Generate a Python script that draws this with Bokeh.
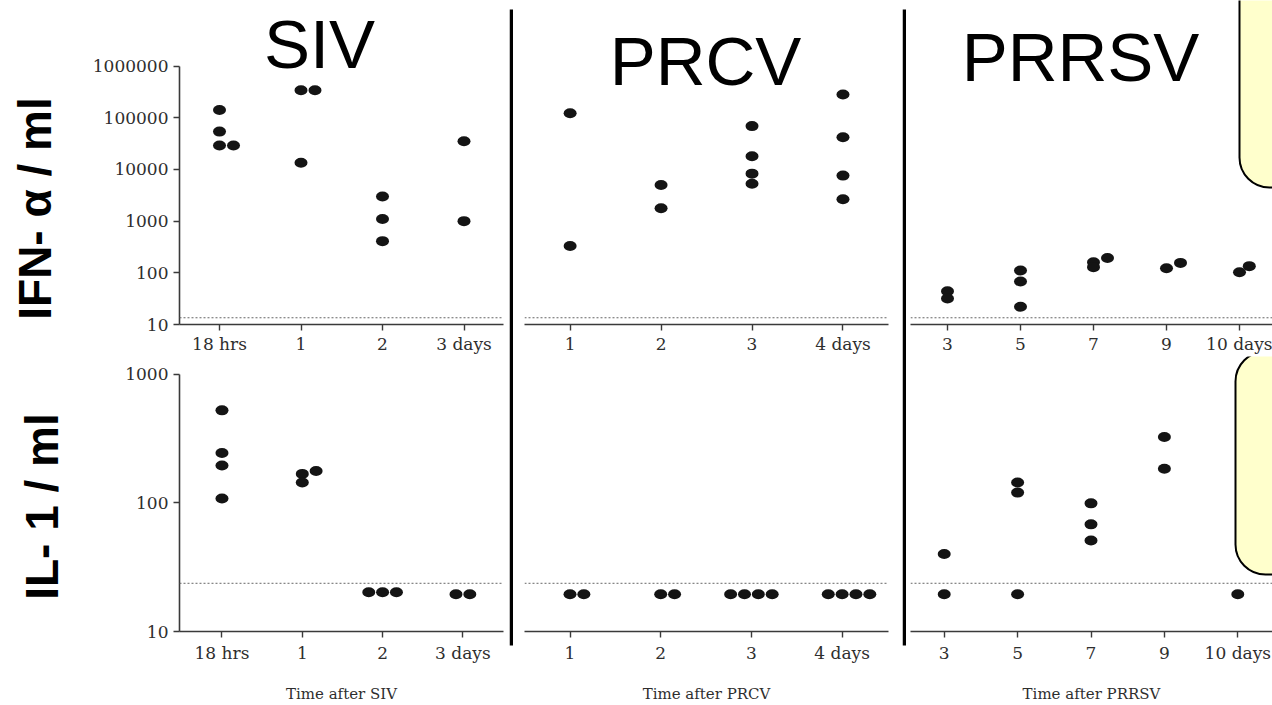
import math
from bokeh.plotting import figure
from bokeh.layouts import row, column
from bokeh.models import (Range1d, FixedTicker, NumeralTickFormatter, Span, Label,
                          BoxAnnotation, ColumnDataSource)
from bokeh.embed import file_html
from bokeh.resources import INLINE

# ---------------- data ----------------
siv_times = ["18 hrs", "1", "2", "3 days"]
prcv_times = ["1", "2", "3", "4 days"]
prrsv_times = ["3", "5", "7", "9", "10 days"]

# IFN-alpha / ml
siv_ifn_time = [0, 0, 0, 0, 1, 1, 1, 2, 2, 2, 3, 3]
siv_ifn_value = [141000, 54000, 29000, 29000, 340000, 340000, 13500, 3000, 1100, 410, 35000, 1000]
siv_ifn_dodge = [0, 0, 0, 1, 0, 1, 0, 0, 0, 0, 0, 0]

prcv_ifn_time = [0, 0, 1, 1, 2, 2, 2, 2, 3, 3, 3, 3]
prcv_ifn_value = [122000, 330, 5000, 1780, 69000, 18000, 8300, 5300, 283000, 42000, 7600, 2650]
prcv_ifn_dodge = [0, 0, 0, 0, 0, 0, 0, 0, 0, 0, 0, 0]

prrsv_ifn_time = [0, 0, 1, 1, 1, 2, 2, 2, 3, 3, 4, 4]
prrsv_ifn_value = [44, 32, 111, 68, 22, 161, 129, 194, 123, 156, 103, 135]
prrsv_ifn_dodge = [0, 0, 0, 0, 0, 0, 0, 1, 0, 1, 0, 0.7]

# IL-1 / ml
siv_il1_time = [0, 0, 0, 0, 1, 1, 1, 2, 2, 2, 3, 3]
siv_il1_value = [524, 244, 195, 108, 168, 144, 177, 20.2, 20.2, 20.2, 19.5, 19.5]
siv_il1_dodge = [0, 0, 0, 0, 0, 0, 1, -1, 0, 1, -0.5, 0.5]

prcv_il1_time = [0, 0, 1, 1, 2, 2, 2, 2, 3, 3, 3, 3]
prcv_il1_value = [19.5, 19.5, 19.5, 19.5, 19.5, 19.5, 19.5, 19.5, 19.5, 19.5, 19.5, 19.5]
prcv_il1_dodge = [0, 1, 0, 1, -1.5, -0.5, 0.5, 1.5, -1, 0, 1, 2]

prrsv_il1_time = [0, 0, 1, 1, 1, 2, 2, 2, 3, 3, 4]
prrsv_il1_value = [40, 19.5, 144, 120, 19.5, 99, 68, 51, 325, 184, 19.5]
prrsv_il1_dodge = [0, 0, 0, 0, 0, 0, 0, 0, 0, 0, 0]

ifn_ticks = [10, 100, 1000, 10000, 100000, 1000000]
il1_ticks = [10, 100, 1000]
ifn_limit = 13.5
il1_limit = 23.7

titles = ["SIV", "PRCV", "PRRSV"]
ylabels = ["IFN- α / ml", "IL- 1 / ml"]
xlabels = ["Time after SIV", "Time after PRCV", "Time after PRRSV"]

# ---------------- styling ----------------
SERIF = "DejaVu Serif"
SANS = "Liberation Sans"
DOT = "#141414"
AX = "#3a3a3a"
TXT = "#2e2e2e"
DODGE_PX = 14
W, H = 1272, 705
TOP_H = 356
BOT_H = H - TOP_H


def panel(gx, gy, width, height, frame, top_tick_px, ticks, tick0, spacing, n,
          show_y, times, t, v, d, limit, xlabel=None):
    fl, fr, ft, fb = frame
    lo, hi = math.log10(ticks[0]), math.log10(ticks[-1])
    ppd = (fb - top_tick_px) / (hi - lo)
    y_end = 10 ** (hi + (top_tick_px - ft) / ppd)
    x0 = (fl - tick0) / spacing
    x1 = (fr - tick0) / spacing
    p = figure(width=width, height=height, output_backend="svg", toolbar_location=None,
               x_range=Range1d(x0, x1), y_range=Range1d(ticks[0], y_end), y_axis_type="log",
               y_axis_location="left" if show_y else None,
               min_border_left=fl - gx, min_border_right=gx + width - fr,
               min_border_top=ft - gy, min_border_bottom=gy + height - fb,
               outline_line_color=None, background_fill_color="white",
               border_fill_color="white")
    p.grid.visible = False

    step = DODGE_PX / spacing
    xs = [ti + di * step for ti, di in zip(t, d)]
    src = ColumnDataSource(dict(x=xs, y=v))
    p.ellipse(x="x", y="y", width=13, height=10, width_units="screen",
              height_units="screen", source=src, fill_color=DOT, line_color=None)

    p.add_layout(Span(location=limit, dimension="width", line_color="#666666",
                      line_width=1, line_dash="2 2"))

    xa = p.xaxis[0]
    xa.ticker = FixedTicker(ticks=list(range(n)))
    xa.major_label_overrides = {i: lab for i, lab in enumerate(times)}
    xa.axis_line_color = AX
    xa.axis_line_width = 1.6
    xa.major_tick_line_color = AX
    xa.major_tick_line_width = 1.4
    xa.major_tick_out = 6
    xa.major_tick_in = 0
    xa.minor_tick_line_color = None
    xa.major_label_standoff = 5 if xlabel else 3
    xa.major_label_text_font = SERIF
    xa.major_label_text_font_size = "17px"
    xa.major_label_text_color = TXT
    if xlabel:
        xa.axis_label = xlabel
        xa.axis_label_text_font = SERIF
        xa.axis_label_text_font_size = "15px"
        xa.axis_label_text_font_style = "normal"
        xa.axis_label_text_color = TXT
        xa.axis_label_standoff = 19

    if show_y:
        ya = p.yaxis[0]
        ya.ticker = FixedTicker(ticks=ticks)
        ya.bounds = (ticks[0], ticks[-1])
        ya.formatter = NumeralTickFormatter(format="0")
        ya.axis_line_color = AX
        ya.axis_line_width = 1.6
        ya.major_tick_line_color = AX
        ya.major_tick_line_width = 1.4
        ya.major_tick_out = 6
        ya.major_tick_in = 0
        ya.minor_tick_line_color = None
        ya.major_label_standoff = 5
        ya.major_label_text_font = SERIF
        ya.major_label_text_font_size = "17px"
        ya.major_label_text_color = TXT
    return p


def px_label(p, frame, x, y, text, size, bold=False, angle=0.0):
    # (x, y): centre of the text in page pixels
    fl, fr, ft, fb = frame
    p.add_layout(Label(x=x - fl, y=fb - y, x_units="screen", y_units="screen", text=text,
                       text_font=SANS, text_font_size=size,
                       text_font_style="bold" if bold else "normal",
                       text_align="center", text_baseline="middle",
                       text_color="black", angle=angle))


def px_box(p, frame, left, right, top, bottom):
    fl, fr, ft, fb = frame
    p.add_layout(BoxAnnotation(left=left - fl, right=right - fl, top=fb - top, bottom=fb - bottom,
                               left_units="screen", right_units="screen",
                               top_units="screen", bottom_units="screen",
                               fill_color="#FFFFCC", fill_alpha=1.0,
                               line_color="black", line_width=2, line_alpha=1.0,
                               border_radius=30))


LBL_W = 70
F_T1 = (179, 503, 0, 326)
F_B1 = (175, 503, TOP_H, 635)
F_T2 = (524, 891, 0, 326)
F_B2 = (520, 888, TOP_H, 636)
F_T3 = (910, 1272, 0, 325)
F_B3 = (907, 1272, TOP_H, 637)

# y-axis titles strip
lab = figure(width=LBL_W, height=H, output_backend="svg", toolbar_location=None,
             x_range=Range1d(0, 1), y_range=Range1d(0, 1), min_border=0,
             x_axis_location=None, y_axis_location=None, outline_line_color=None)
lab.grid.visible = False
F_L = (0, LBL_W, 0, H)
px_label(lab, F_L, 34, 208, ylabels[0], "46px", bold=True, angle=math.pi / 2)
px_label(lab, F_L, 41, 506, ylabels[1], "46px", bold=True, angle=math.pi / 2)

# column 1 : SIV
t1 = panel(LBL_W, 0, 509 - LBL_W, TOP_H, F_T1, 66, ifn_ticks, 219, 81.5, 4,
           True, siv_times, siv_ifn_time, siv_ifn_value, siv_ifn_dodge, ifn_limit)
b1 = panel(LBL_W, TOP_H, 509 - LBL_W, BOT_H, F_B1, 374, il1_ticks, 218, 81.3, 4,
           True, siv_times, siv_il1_time, siv_il1_value, siv_il1_dodge, il1_limit, xlabels[0])
px_label(t1, F_T1, 319, 46, titles[0], "69px")

# column 2 : PRCV
t2 = panel(513, 0, 389, TOP_H, F_T2, 66, ifn_ticks, 570, 91.7, 4,
           False, prcv_times, prcv_ifn_time, prcv_ifn_value, prcv_ifn_dodge, ifn_limit)
b2 = panel(513, TOP_H, 389, BOT_H, F_B2, 374, il1_ticks, 566, 91.7, 4,
           False, prcv_times, prcv_il1_time, prcv_il1_value, prcv_il1_dodge, il1_limit, xlabels[1])
px_label(t2, F_T2, 705, 63, titles[1], "69px")

# column 3 : PRRSV
t3 = panel(906, 0, 366, TOP_H, F_T3, 66, ifn_ticks, 947, 73, 5,
           False, prrsv_times, prrsv_ifn_time, prrsv_ifn_value, prrsv_ifn_dodge, ifn_limit)
b3 = panel(906, TOP_H, 366, BOT_H, F_B3, 374, il1_ticks, 941, 74, 5,
           False, prrsv_times, prrsv_il1_time, prrsv_il1_value, prrsv_il1_dodge, il1_limit, xlabels[2])
px_label(t3, F_T3, 1080, 58, titles[2], "69px")
px_box(t3, F_T3, 1239, 1320, -60, 188)
px_box(b3, F_B3, 1232, 1320, TOP_H + 1, 580)


def separator():
    s = figure(width=4, height=H, output_backend="svg", toolbar_location=None,
               x_range=Range1d(0, 1), y_range=Range1d(H, 0), min_border=0,
               x_axis_location=None, y_axis_location=None, outline_line_color=None)
    s.grid.visible = False
    s.quad(left=[0], right=[1], top=[9], bottom=[645], fill_color="black", line_color=None)
    return s


layout = row(lab, column(t1, b1), separator(), column(t2, b2), separator(), column(t3, b3))

with open("out.html", "w") as f:
    f.write(file_html(layout, INLINE))
